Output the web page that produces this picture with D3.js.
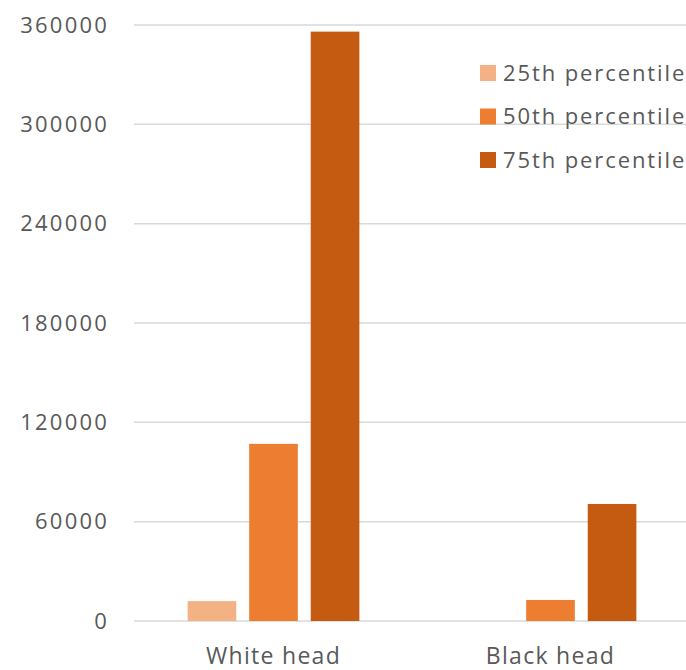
<!DOCTYPE html>
<html>
<head>
<meta charset="utf-8">
<script src="https://cdn.jsdelivr.net/npm/d3@7"></script>
<style>
  html, body { margin: 0; padding: 0; background: #fff; }
  svg { display: block; }
  text { font-family: "Open Sans", "Liberation Sans", sans-serif; fill: #595959; }
</style>
</head>
<body>
<svg id="chart" width="686" height="670"></svg>
<script>
// Household wealth percentiles by head of household
const categories = ["White head", "Black head"];
const seriesNames = ["25th percentile", "50th percentile", "75th percentile"];
const seriesColors = ["#F4B183", "#ED7D31", "#C55A11"];
const p25 = [12000, 0];
const p50 = [107000, 12700];
const p75 = [356000, 70700];
const yTicks = [0, 60000, 120000, 180000, 240000, 300000, 360000];

const seriesValues = [p25, p50, p75];

const svg = d3.select("#chart");
const margin = { top: 25, left: 135 };
const width = 554;
const height = 596;

const g = svg.append("g").attr("transform", `translate(${margin.left},${margin.top})`);

const x0 = d3.scaleBand().domain(categories).range([0, width]).paddingInner(0.38).paddingOuter(0.19);
const x1 = d3.scaleBand().domain(seriesNames).range([0, x0.bandwidth()]).paddingInner(0.21);
const y = d3.scaleLinear().domain([0, 360000]).range([height, 0]);

// gridlines
g.append("g")
  .selectAll("line")
  .data(yTicks)
  .join("line")
  .attr("x1", -1).attr("x2", width)
  .attr("y1", d => y(d)).attr("y2", d => y(d))
  .attr("stroke", "#D9D9D9").attr("stroke-width", 1.5);

// y axis labels
const yAxis = d3.axisLeft(y).tickValues(yTicks).tickSize(0).tickPadding(26).tickFormat(d3.format("d"));
g.append("g").call(yAxis)
  .call(a => a.select(".domain").remove())
  .selectAll("text")
  .style("font-size", "22px")
  .style("letter-spacing", "2.2px")
  .attr("fill", "#595959");

// bars
const groups = g.append("g").selectAll("g")
  .data(categories)
  .join("g")
  .attr("transform", d => `translate(${x0(d)},0)`);

groups.selectAll("rect")
  .data((c, ci) => seriesNames.map((s, si) => ({ s, si, v: seriesValues[si][ci] })))
  .join("rect")
  .attr("x", d => x1(d.s))
  .attr("width", x1.bandwidth())
  .attr("y", d => y(d.v))
  .attr("height", d => height - y(d.v))
  .attr("fill", d => seriesColors[d.si]);

// x axis labels
const xAxis = d3.axisBottom(x0).tickSize(0).tickPadding(27);
g.append("g").attr("transform", `translate(0,${height})`).call(xAxis)
  .call(a => a.select(".domain").remove())
  .selectAll("text")
  .style("font-size", "23px")
  .style("letter-spacing", "1.3px")
  .attr("fill", "#595959");

// legend
const legend = svg.append("g").attr("transform", "translate(480,73)");
const rows = legend.selectAll("g")
  .data(seriesNames)
  .join("g")
  .attr("transform", (d, i) => `translate(0,${i * 43.5})`);
rows.append("rect")
  .attr("x", 0).attr("y", -8).attr("width", 16).attr("height", 16)
  .attr("fill", (d, i) => seriesColors[i]);
rows.append("text")
  .attr("x", 23).attr("y", 0).attr("dy", "0.35em")
  .style("font-size", "22px")
  .style("letter-spacing", "1.9px")
  .text(d => d);
</script>
</body>
</html>
